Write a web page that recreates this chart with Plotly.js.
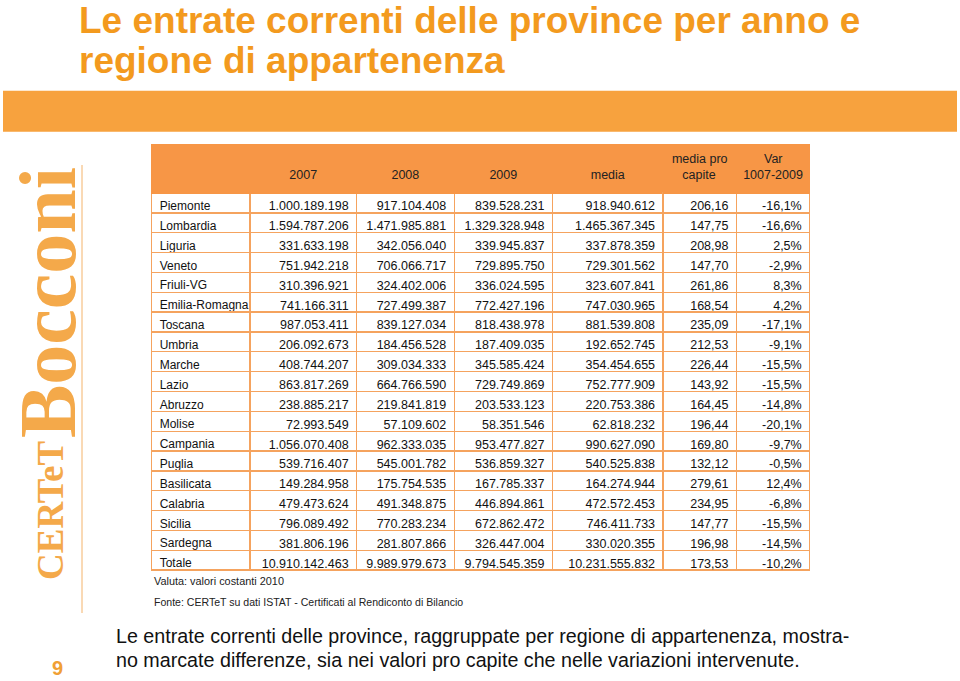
<!DOCTYPE html>
<html>
<head>
<meta charset="utf-8">
<script src="https://cdn.plot.ly/plotly-3.0.1.min.js"></script>
<style>html,body{margin:0;padding:0;background:#fff;}#chart{width:960px;height:681px;}</style>
</head>
<body>
<div id="chart"></div>
<script>
// ---- DATA ----
const NB = "\u00A0";
const headerLabels = ["", NB + "<br>2007", NB + "<br>2008", NB + "<br>2009", NB + "<br>media", "media pro<br>" + NB.repeat(3) + "capite", NB.repeat(6) + "Var<br>1007-2009"];
const regions = ["Piemonte","Lombardia","Liguria","Veneto","Friuli-VG","Emilia-Romagna","Toscana","Umbria","Marche","Lazio","Abruzzo","Molise","Campania","Puglia","Basilicata","Calabria","Sicilia","Sardegna","Totale"];
const v2007 = [1000189198,1594787206,331633198,751942218,310396921,741166311,987053411,206092673,408744207,863817269,238885217,72993549,1056070408,539716407,149284958,479473624,796089492,381806196,10910142463];
const v2008 = [917104408,1471985881,342056040,706066717,324402006,727499387,839127034,184456528,309034333,664766590,219841819,57109602,962333035,545001782,175754535,491348875,770283234,281807866,9989979673];
const v2009 = [839528231,1329328948,339945837,729895750,336024595,772427196,818438978,187409035,345585424,729749869,203533123,58351546,953477827,536859327,167785337,446894861,672862472,326447004,9794545359];
const media = [918940612,1465367345,337878359,729301562,323607841,747030965,881539808,192652745,354454655,752777909,220753386,62818232,990627090,540525838,164274944,472572453,746411733,330020355,10231555832];
const proCapite = [206.16,147.75,208.98,147.70,261.86,168.54,235.09,212.53,226.44,143.92,164.45,196.44,169.80,132.12,279.61,234.95,147.77,196.98,173.53];
const varPct = [-16.1,-16.6,2.5,-2.9,8.3,4.2,-17.1,-9.1,-15.5,-15.5,-14.8,-20.1,-9.7,-0.5,12.4,-6.8,-15.5,-14.5,-10.2];

// ---- formatting (Italian) ----
function fmtInt(n){ return String(n).replace(/\B(?=(\d{3})+(?!\d))/g, "."); }
function fmtDec(n, d){ return n.toFixed(d).replace(".", ","); }
function fmtPct(n){ return fmtDec(n,1) + "%"; }

const W = 960, H = 681;
const px = x => x / W;
const py = y => 1 - y / H;

const ORANGE_HEAD = "#F79646";
const ORANGE_LINE = "#F5A35E";
const TITLE_COL = "#F39A1E";
const SANS = "Liberation Sans, Arial, sans-serif";

const colW = [98.3, 106.7, 97.6, 98.4, 110.6, 73.4, 73.3];

const table = {
  type: "table",
  domain: {x: [px(151.7), px(810)], y: [py(640), py(144)]},
  columnwidth: colW,
  header: {
    values: headerLabels,
    align: "center",
    height: 49,
    fill: {color: ORANGE_HEAD},
    line: {color: ORANGE_HEAD, width: 1},
    font: {family: SANS, size: 12.5, color: "#222"}
  },
  cells: {
    values: [regions, v2007.map(fmtInt), v2008.map(fmtInt), v2009.map(fmtInt), media.map(fmtInt), proCapite.map(v=>fmtDec(v,2)), varPct.map(fmtPct)],
    align: ["left","right","right","right","right","right","right"],
    height: 19.85,
    fill: {color: "#ffffff"},
    line: {color: ORANGE_LINE, width: 1.3},
    font: {family: SANS, size: [12, 12.5, 12.5, 12.5, 12.5, 12.5, 12.5], color: "#111"}
  }
};

const ann = [
  {text: "<b>Le entrate correnti delle province per anno e</b>", x: px(77), y: py(20), xanchor: "left", yanchor: "middle", font: {family: SANS, size: 37, color: TITLE_COL}},
  {text: "<b>regione di appartenenza</b>", x: px(77), y: py(60), xanchor: "left", yanchor: "middle", font: {family: SANS, size: 37, color: TITLE_COL}},
  {text: "Valuta: valori costanti 2010", x: px(152), y: py(581), xanchor: "left", yanchor: "middle", font: {family: SANS, size: 10.9, color: "#222"}},
  {text: "Fonte: CERTeT su dati ISTAT - Certificati al Rendiconto di Bilancio", x: px(152), y: py(602), xanchor: "left", yanchor: "middle", font: {family: SANS, size: 10.55, color: "#222"}},
  {text: "Le entrate correnti delle province, raggruppate per regione di appartenenza, mostra-", x: px(114), y: py(636), xanchor: "left", yanchor: "middle", font: {family: SANS, size: 19.7, color: "#111"}},
  {text: "no marcate differenze, sia nei valori pro capite che nelle variazioni intervenute.", x: px(114), y: py(660), xanchor: "left", yanchor: "middle", font: {family: SANS, size: 19.7, color: "#111"}},
  {text: "<b>9</b>", x: px(57), y: py(668), xanchor: "center", yanchor: "middle", font: {family: SANS, size: 20, color: "#F0A035"}},
  {text: "<b>Bocconi</b>", x: px(48), y: py(303), xanchor: "center", yanchor: "middle", textangle: -90, font: {family: "Liberation Serif, DejaVu Serif, serif", size: 80, color: "#F4A94A"}},
  {text: "<b>CERTeT</b>", x: px(50), y: py(510), xanchor: "center", yanchor: "middle", textangle: -90, font: {family: "Liberation Serif, DejaVu Serif, serif", size: 37, color: "#F4A94A"}}
].map(a => Object.assign({xref: "paper", yref: "paper", showarrow: false}, a));

const shapes = [
  {type: "rect", xref: "paper", yref: "paper", x0: px(3), x1: px(957), y0: py(131.7), y1: py(90.7), fillcolor: "#F7A23E", line: {width: 0}, layer: "below"},
  {type: "line", xref: "paper", yref: "paper", x0: px(82), x1: px(82), y0: py(165), y1: py(613), line: {color: "#F4B36B", width: 1}}
];

const layout = {
  width: W, height: H,
  margin: {l: 0, r: 0, t: 0, b: 0},
  paper_bgcolor: "#ffffff",
  plot_bgcolor: "#ffffff",
  showlegend: false,
  annotations: ann,
  shapes: shapes
};

Plotly.newPlot("chart", [table], layout, {displayModeBar: false, staticPlot: true});
</script>
</body>
</html>
